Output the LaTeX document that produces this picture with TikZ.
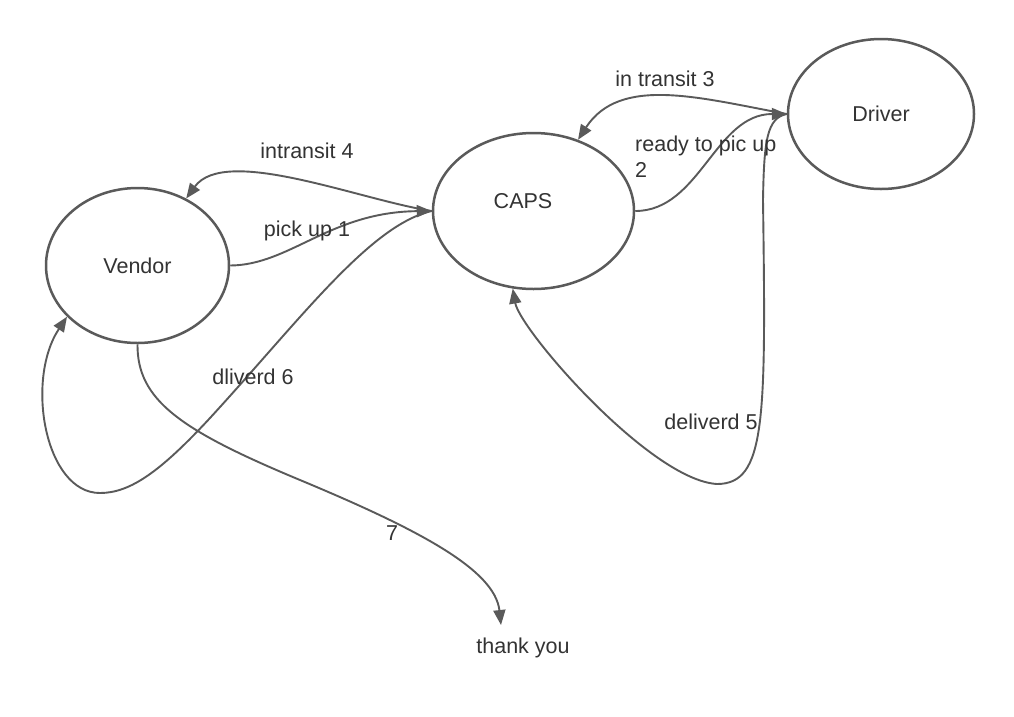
\documentclass[tikz,border=0pt]{standalone}
\usepackage{fontspec}
\setmainfont{Liberation Sans}
\usetikzlibrary{shapes.geometric,arrows.meta}
\definecolor{linegray}{HTML}{5A5A5A}
\definecolor{textgray}{HTML}{333333}
\tikzset{
  state/.style={draw=linegray, line width=2.5pt, ellipse, inner sep=0pt, text=textgray, font=\fontsize{21.5}{26}\selectfont},
  conn/.style={draw=linegray, line width=1.9pt, -{Triangle[length=15pt,width=12pt]}},
  lbl/.style={text=textgray, font=\fontsize{21.5}{26}\selectfont, inner sep=0pt}
}
\begin{document}
\begin{tikzpicture}[x=1pt,y=-1pt]
\useasboundingbox[fill=white] (0,0) rectangle (1014,716);
\node[state, minimum width=183pt, minimum height=155pt] (vendor) at (137.5,265.5) {Vendor};
\node[state, minimum width=201pt, minimum height=156pt] (caps) at (533.5,211) {};
\node[lbl] (capslbl) at (523,201) {CAPS};
\node[state, minimum width=186pt, minimum height=150pt] (driver) at (881,114) {Driver};

\coordinate (d5a) at (763,200);
\coordinate (d5b) at (717,484);
\coordinate (d6a) at (210,418);
\coordinate (d6b) at (100,493);
\coordinate (s7) at (300,480);
\node[lbl] (thanks) at (523,648) {thank you};
\coordinate (t7) at (501,625);

% 1 pick up
\draw[conn] (vendor.east) .. controls (290,265) and (330,212) .. (caps.west);
% 2 ready to pic up
\draw[conn] (caps.east) .. controls (700,211) and (715,114) .. (driver.west);
% 3 in transit
\draw[conn] (driver.west) .. controls (700,98) and (620,75) .. (caps.58);
% 4 intransit
\draw[conn] (caps.west) .. controls (360,200) and (225,145) .. (vendor.54);
% 5 deliverd
\draw[conn] (driver.west) .. controls (767,118) and (764,140) .. (d5a)
   .. controls (766,420) and (766,484) .. (d5b)
   .. controls (650,480) and (520,330) .. (caps.255);
% 6 dliverd
\draw[conn] (caps.west) .. controls (370,225) and (300,320) .. (d6a)
   .. controls (160,472) and (130,493) .. (d6b)
   .. controls (45,493) and (25,380) .. (vendor.216);
% 7
\draw[conn] (vendor.south) .. controls (137,400) and (180,430) .. (s7)
   .. controls (420,530) and (495,570) .. (t7);

\node[lbl] (l1) at (307,231) {pick up 1};
\node[lbl, align=left, anchor=north west] (l2) at (635,136) {ready to pic up\\2};
\node[lbl] (l3) at (665,79) {in transit 3};
\node[lbl] (l4) at (307,151) {intransit 4};
\node[lbl] (l5) at (711,422) {deliverd 5};
\node[lbl] (l6) at (253,377) {dliverd 6};
\node[lbl] (l7) at (392,533) {7};
\end{tikzpicture}
\end{document}
